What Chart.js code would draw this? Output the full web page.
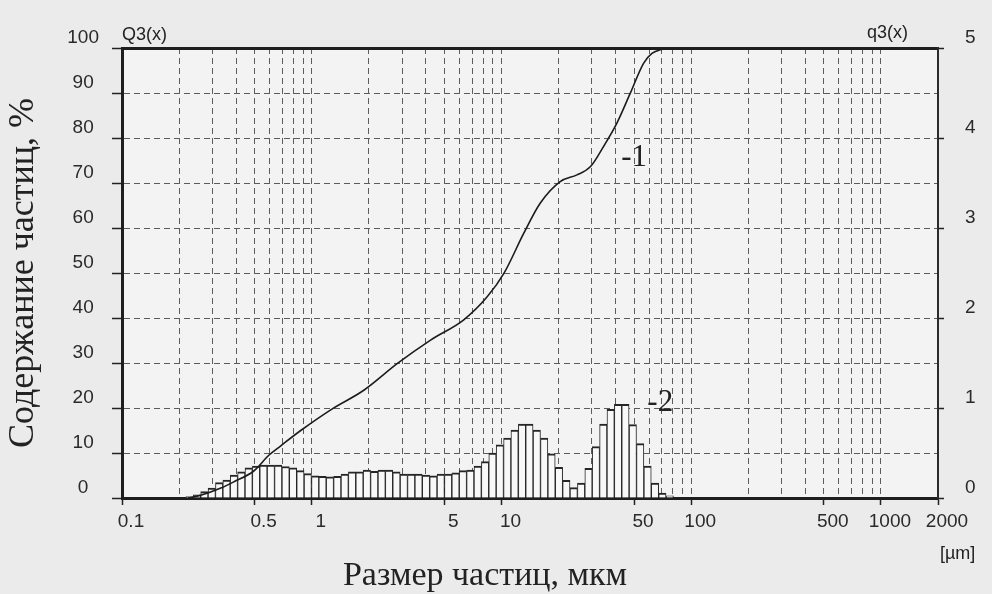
<!DOCTYPE html>
<html lang="ru">
<head>
<meta charset="utf-8">
<title>Размер частиц</title>
<script src="https://cdn.jsdelivr.net/npm/chart.js@4"></script>
<style>
  html, body { margin: 0; padding: 0; background: #ebebeb; }
  #wrap { width: 992px; height: 594px; }
</style>
</head>
<body>
<div id="wrap"><canvas id="chart" width="992" height="594"></canvas></div>
<script>
// центры классов гистограммы, мкм
const binSizes = [
  0.2271, 0.2484, 0.2717, 0.2972, 0.3251, 0.3556, 0.3889, 0.4254, 0.4653, 0.5089,
  0.5567, 0.6089, 0.6660, 0.7285, 0.7968, 0.8715, 0.9533, 1.043, 1.140, 1.247,
  1.364, 1.492, 1.632, 1.786, 1.953, 2.136, 2.337, 2.556, 2.796, 3.058,
  3.345, 3.658, 4.001, 4.377, 4.787, 5.236, 5.728, 6.265, 6.852, 7.495,
  8.198, 8.967, 9.808, 10.73, 11.73, 12.84, 14.04, 15.36, 16.80, 18.37,
  20.10, 21.98, 24.04, 26.30, 28.76, 31.46, 34.41, 37.64, 41.17, 45.03,
  49.26, 53.88, 58.93, 64.46, 70.51, 77.12
];
// q3(x) по классам (правая шкала)
const binQ3 = [
  0.015, 0.035, 0.07, 0.11, 0.17, 0.20, 0.255, 0.29, 0.335, 0.355,
  0.365, 0.365, 0.365, 0.35, 0.335, 0.305, 0.27, 0.245, 0.24, 0.235,
  0.24, 0.265, 0.29, 0.29, 0.31, 0.295, 0.31, 0.31, 0.29, 0.265,
  0.265, 0.265, 0.255, 0.245, 0.265, 0.265, 0.28, 0.305, 0.31, 0.355,
  0.405, 0.50, 0.59, 0.665, 0.755, 0.82, 0.82, 0.755, 0.665, 0.49,
  0.34, 0.195, 0.115, 0.165, 0.33, 0.57, 0.82, 0.985, 1.04, 1.04,
  0.815, 0.605, 0.355, 0.165, 0.055, 0.025
];
// интегральная кривая Q3(x), %
const cumSizes = [
  0.223, 0.26, 0.332, 0.389, 0.495, 0.594, 0.687, 0.875, 1.26, 1.89,
  2.83, 4.23, 6.33, 8.41, 10.3, 13.1, 16.0, 20.4, 25.0, 29.4,
  34.5, 40.6, 47.7, 56.1, 62.1, 68.7, 77.5, 1000
];
const cumQ3 = [
  0, 0.6, 2.2, 3.6, 6.0, 9.5, 11.6, 15.0, 19.6, 24.0,
  29.9, 35.1, 39.6, 44.7, 49.9, 58.8, 65.5, 70.3, 71.8, 73.6,
  78.1, 83.3, 89.9, 96.6, 98.8, 99.6, 100, 100
];
// линии сетки по оси X и подписанные значения
const xGridTicks = [
  0.1, 0.2, 0.3, 0.4, 0.5, 0.6, 0.7, 0.8, 0.9,
  1, 2, 3, 4, 5, 6, 7, 8, 9,
  10, 20, 30, 40, 50, 60, 70, 80, 90,
  100, 200, 300, 400, 500, 600, 700, 800, 900,
  1000, 2000
];
const xLabels = [0.1, 0.5, 1, 5, 10, 50, 100, 500, 1000, 2000];
// номера кривых: [текст, x мкм, y %]
const curveMarks = [['-1', 50, 75.6], ['-2', 68.7, 21.1]];

const INK = '#222';
const GRID = '#5c5c5c';
const tickFont = { family: '"Liberation Sans", Arial, sans-serif', size: 19 };
const serif = '"Liberation Serif", "Times New Roman", serif';

const paper = {
  id: 'paper',
  beforeDraw(chart) {
    const { ctx, chartArea: a } = chart;
    ctx.save();
    ctx.fillStyle = '#ebebeb';
    ctx.fillRect(0, 0, chart.width, chart.height);
    ctx.fillStyle = '#f3f3f3';
    ctx.fillRect(a.left, a.top, a.right - a.left, a.bottom - a.top);
    ctx.restore();
  },
  afterDraw(chart) {
    const { ctx, chartArea: a, scales } = chart;
    ctx.save();
    ctx.fillStyle = INK;
    ctx.font = '31px ' + serif;
    ctx.textAlign = 'center';
    ctx.textBaseline = 'middle';
    curveMarks.forEach(([t, x, y]) => {
      ctx.fillText(t, scales.x.getPixelForValue(x), scales.y.getPixelForValue(y));
    });

    ctx.textBaseline = 'alphabetic';
    ctx.font = '18px "Liberation Sans", Arial, sans-serif';
    ctx.textAlign = 'left';
    ctx.fillText('Q3(x)', a.left, a.top - 8);
    ctx.fillText('[µm]', a.right + 2, a.bottom + 61);
    ctx.textAlign = 'right';
    ctx.fillText('q3(x)', a.right - 30, a.top - 10);

    ctx.font = '34px ' + serif;
    ctx.textAlign = 'center';
    ctx.fillText('Размер частиц, мкм', 485, a.bottom + 87);
    ctx.restore();
  }
};

new Chart(document.getElementById('chart'), {
  type: 'bar',
  data: {
    datasets: [
      {
        type: 'line',
        data: cumSizes.map((s, i) => ({ x: s, y: cumQ3[i] })),
        xAxisID: 'x',
        yAxisID: 'y',
        borderColor: '#1c1c1c',
        borderWidth: 1.6,
        pointRadius: 0,
        fill: false,
        cubicInterpolationMode: 'monotone',
        order: 1
      },
      {
        type: 'bar',
        data: binSizes.map((s, i) => ({ x: s, y: binQ3[i] })),
        xAxisID: 'x',
        yAxisID: 'y1',
        backgroundColor: '#f8f8f8',
        borderColor: '#262626',
        borderWidth: { top: 2, left: 1, right: 1, bottom: 0 },
        barPercentage: 1,
        categoryPercentage: 1,
        order: 2
      }
    ]
  },
  options: {
    responsive: false,
    animation: false,
    devicePixelRatio: 1,
    layout: { padding: { top: 48, left: 0, right: 0, bottom: 0 } },
    plugins: { legend: { display: false }, tooltip: { enabled: false } },
    scales: {
      x: {
        type: 'logarithmic',
        position: 'bottom',
        min: 0.1,
        max: 2000,
        offset: false,
        afterBuildTicks: s => { s.ticks = xGridTicks.map(v => ({ value: v })); },
        afterFit: s => { s.height = 96; },
        grid: {
          offset: false,
          color: GRID,
          lineWidth: 1,
          tickLength: 7,
          tickWidth: 1.5,
          tickColor: c => xLabels.includes(c.tick.value) ? INK : 'rgba(0,0,0,0)'
        },
        border: { display: true, color: '#1e1e1e', width: 3, dash: [6, 4] },
        ticks: {
          autoSkip: false,
          maxRotation: 0,
          minRotation: 0,
          labelOffset: 9,
          padding: 5,
          color: '#2a2a2a',
          font: tickFont,
          callback: v => xLabels.includes(v) ? String(v) : ''
        }
      },
      xTop: {
        type: 'logarithmic',
        position: 'top',
        min: 0.1,
        max: 2000,
        offset: false,
        afterFit: s => { s.height = 0; },
        ticks: { display: false },
        grid: { display: false, offset: false, drawTicks: false },
        border: { display: true, color: '#1e1e1e', width: 3 }
      },
      y: {
        position: 'left',
        min: 0,
        max: 100,
        afterFit: s => { s.width = 122; },
        ticks: {
          stepSize: 10,
          labelOffset: -10,
          padding: 13,
          crossAlign: 'center',
          color: '#2a2a2a',
          font: tickFont
        },
        grid: { color: GRID, lineWidth: 1, tickLength: 10, tickColor: INK, tickWidth: 1.5 },
        border: { display: true, color: '#1e1e1e', width: 3, dash: [6, 4] },
        title: {
          display: true,
          text: 'Содержание частиц, %',
          color: INK,
          font: { family: serif, size: 36 },
          padding: { top: 2, bottom: 0 }
        }
      },
      y1: {
        position: 'right',
        min: 0,
        max: 5,
        afterFit: s => { s.width = 54; },
        ticks: {
          stepSize: 1,
          labelOffset: -10,
          padding: 21,
          color: '#2a2a2a',
          font: tickFont
        },
        grid: { drawOnChartArea: false, tickLength: 6, tickColor: INK, tickWidth: 1.5 },
        border: { display: true, color: '#2a2a2a', width: 2 }
      }
    }
  },
  plugins: [paper]
});
</script>
</body>
</html>
